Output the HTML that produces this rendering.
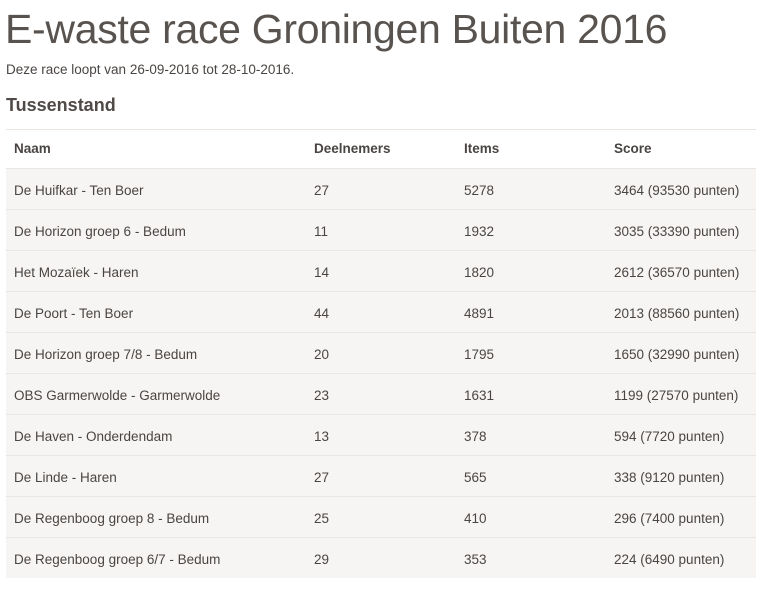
<!DOCTYPE html>
<html><head><meta charset="utf-8"><style>
body{margin:0;background:#fff;font-family:"Liberation Sans",sans-serif;color:#4a4542;width:763px;height:589px;overflow:hidden}
h1{position:absolute;left:5px;top:4px;margin:0;font-weight:normal;font-size:41px;line-height:50px;color:#58534f;letter-spacing:-0.3px}
.sub{position:absolute;left:6px;top:61px;font-size:13.5px;line-height:18px}
h2{position:absolute;left:6px;top:94px;margin:0;font-size:18px;line-height:22px;font-weight:bold;color:#4f4a47}
table{position:absolute;left:6px;top:129px;width:750px;border-collapse:collapse;font-size:13.5px}
td,th{padding:0 0 0 8px;text-align:left;border-top:1px solid #ebe6e1;vertical-align:middle}
th{font-weight:bold;color:#4a4542;height:39px;padding-bottom:1px;box-sizing:border-box}
tbody tr{background:#f7f5f3}
tbody td{height:38px;padding-top:2px}
</style></head><body>
<h1>E-waste race Groningen Buiten 2016</h1>
<div class="sub">Deze race loopt van 26-09-2016 tot 28-10-2016.</div>
<h2>Tussenstand</h2>
<table>
<colgroup><col style="width:300px"><col style="width:150px"><col style="width:150px"><col style="width:150px"></colgroup>
<thead><tr><th>Naam</th><th>Deelnemers</th><th>Items</th><th>Score</th></tr></thead>
<tbody>
<tr><td>De Huifkar - Ten Boer</td><td>27</td><td>5278</td><td>3464 (93530 punten)</td></tr>
<tr><td>De Horizon groep 6 - Bedum</td><td>11</td><td>1932</td><td>3035 (33390 punten)</td></tr>
<tr><td>Het Mozaïek - Haren</td><td>14</td><td>1820</td><td>2612 (36570 punten)</td></tr>
<tr><td>De Poort - Ten Boer</td><td>44</td><td>4891</td><td>2013 (88560 punten)</td></tr>
<tr><td>De Horizon groep 7/8 - Bedum</td><td>20</td><td>1795</td><td>1650 (32990 punten)</td></tr>
<tr><td>OBS Garmerwolde - Garmerwolde</td><td>23</td><td>1631</td><td>1199 (27570 punten)</td></tr>
<tr><td>De Haven - Onderdendam</td><td>13</td><td>378</td><td>594 (7720 punten)</td></tr>
<tr><td>De Linde - Haren</td><td>27</td><td>565</td><td>338 (9120 punten)</td></tr>
<tr><td>De Regenboog groep 8 - Bedum</td><td>25</td><td>410</td><td>296 (7400 punten)</td></tr>
<tr><td>De Regenboog groep 6/7 - Bedum</td><td>29</td><td>353</td><td>224 (6490 punten)</td></tr>
</tbody></table>
</body></html>
